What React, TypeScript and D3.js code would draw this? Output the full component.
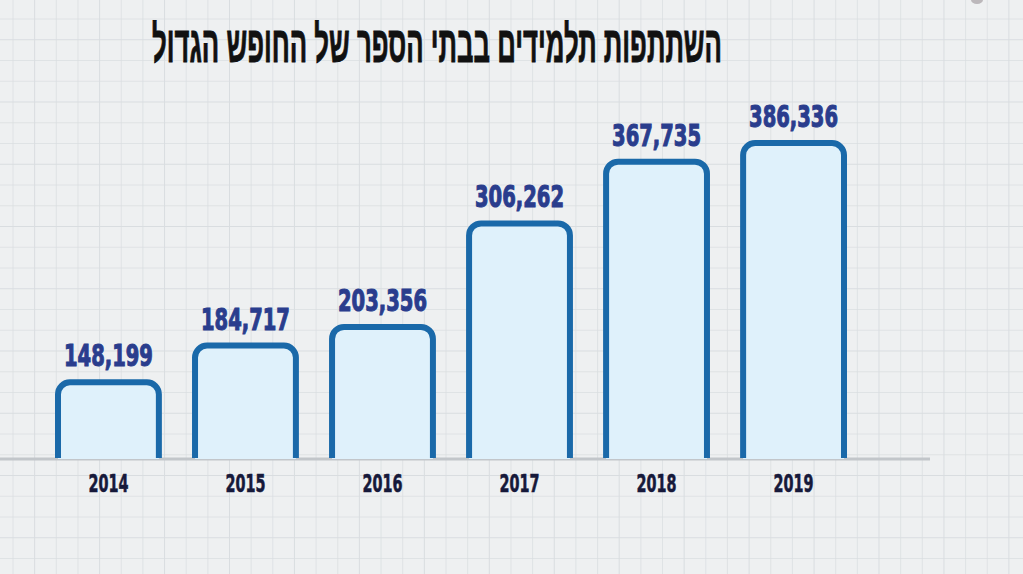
import React from 'react';
import * as d3 from 'd3';

const WIDTH = 1023;
const HEIGHT = 574;
const BASE_Y = 459;

const TITLE = 'השתתפות תלמידים בבתי הספר של החופש הגדול';
const years = ['2014', '2015', '2016', '2017', '2018', '2019'];
const students = [148199, 184717, 203356, 306262, 367735, 386336];

const STROKE = 6;
const R = 12;

// outline of a bar: open at the bottom, rounded on top
const barOutline = (x0: number, x1: number, top: number, base: number) => {
  const p = d3.path();
  p.moveTo(x0, base);
  p.lineTo(x0, top + R);
  p.arcTo(x0, top, x0 + R, top, R);
  p.lineTo(x1 - R, top);
  p.arcTo(x1, top, x1, top + R, R);
  p.lineTo(x1, base);
  return p.toString();
};

const App = () => {
  const x = d3.scaleBand<string>().domain(years).range([55, 847]).paddingInner(0.22).paddingOuter(0);
  const y = d3.scaleLinear().domain([68900, 386336]).range([BASE_Y, 140]);
  const fmt = d3.format(',');

  const gridX = d3.range(13, WIDTH, 21.65);
  const gridY = d3.range(19, HEIGHT, 20.75);

  return (
    <svg width={WIDTH} height={HEIGHT} style={{ position: 'absolute', left: 0, top: 0 }}>
      <rect width={WIDTH} height={HEIGHT} fill="#eef0f1" />
      <g stroke="#d9dde0" strokeWidth={1}>
        {gridX.map((gx, i) => (
          <line key={'v' + i} x1={gx} x2={gx} y1={0} y2={HEIGHT} strokeOpacity={i % 3 === 1 ? 1 : 0.7} />
        ))}
        {gridY.map((gy, i) => (
          <line key={'h' + i} x1={0} x2={WIDTH} y1={gy} y2={gy} strokeOpacity={i % 3 === 1 ? 1 : 0.7} />
        ))}
      </g>
      <ellipse cx={977} cy={0} rx={6} ry={4} fill="#8a7f86" opacity={0.5} />

      {/* condensed, tall title: narrow font size stretched vertically */}
      <g transform="translate(437,62) scale(1,1.8)">
        <text
          x={0}
          y={0}
          textAnchor="middle"
          fontFamily="'Liberation Sans', 'DejaVu Sans', sans-serif"
          fontWeight="bold"
          fontSize={28}
          textLength={570}
          lengthAdjust="spacingAndGlyphs"
          fill="#111"
          stroke="#111"
          strokeWidth={0.5}
        >
          {TITLE}
        </text>
      </g>

      <line x1={0} x2={930} y1={BASE_Y} y2={BASE_Y} stroke="#c2c6ca" strokeWidth={3} />

      {years.map((yr, i) => {
        const x0 = (x(yr) as number) + STROKE / 2;
        const x1 = (x(yr) as number) + x.bandwidth() - STROKE / 2;
        const top = y(students[i]) + STROKE / 2;
        const cx = (x(yr) as number) + x.bandwidth() / 2;
        return (
          <g key={yr}>
            <path d={barOutline(x0, x1, top, BASE_Y) + 'Z'} fill="#dff1fb" stroke="none" />
            <path d={barOutline(x0, x1, top, BASE_Y - 1)} fill="none" stroke="#1a69a9" strokeWidth={STROKE} />
            <text
              x={cx}
              y={y(students[i]) - 13}
              textAnchor="middle"
              fontFamily="'DejaVu Sans Condensed', 'DejaVu Sans', sans-serif"
              fontWeight="bold"
              fontSize={31}
              textLength={89}
              lengthAdjust="spacingAndGlyphs"
              fill="#2a3d8d"
              stroke="#2a3d8d"
              strokeWidth={1.1}
            >
              {fmt(students[i])}
            </text>
            <text
              x={cx}
              y={492}
              textAnchor="middle"
              fontFamily="'DejaVu Sans Condensed', 'DejaVu Sans', sans-serif"
              fontWeight="bold"
              fontSize={25}
              textLength={40}
              lengthAdjust="spacingAndGlyphs"
              fill="#16193a"
              stroke="#16193a"
              strokeWidth={0.6}
            >
              {yr}
            </text>
          </g>
        );
      })}
    </svg>
  );
};

export default App;
